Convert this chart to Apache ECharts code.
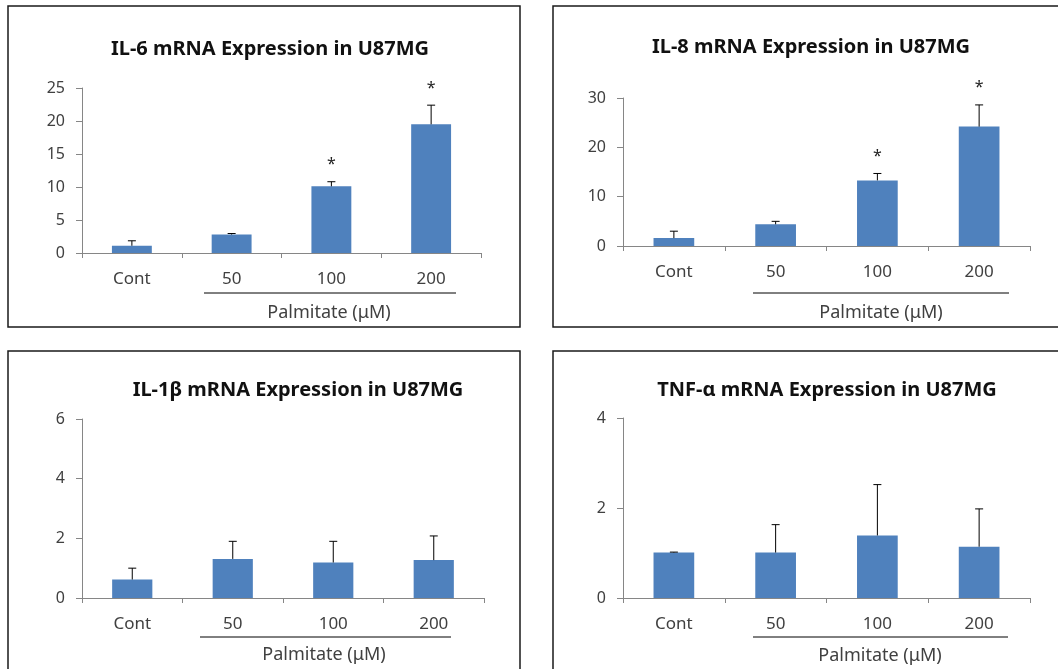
<!DOCTYPE html>
<html>
<head>
<meta charset="utf-8">
<script src="https://cdn.jsdelivr.net/npm/echarts@6/dist/echarts.min.js"></script>
<style>
  html, body { margin: 0; padding: 0; background: #fff; }
  #chart { width: 1058px; height: 669px; }
</style>
</head>
<body>
<div id="chart"></div>
<script>
// Treatment groups (Palmitate concentrations in µM)
const categories = ['Cont', '50', '100', '200'];

// Relative mRNA expression: mean and upper error (SD)
const il6Mean = [1.1, 2.8, 10.1, 19.5];
const il6Err = [0.75, 0.15, 0.7, 2.9];
const il8Mean = [1.6, 4.4, 13.3, 24.2];
const il8Err = [1.4, 0.6, 1.4, 4.4];
const il1bMean = [0.62, 1.31, 1.19, 1.27];
const il1bErr = [0.38, 0.59, 0.71, 0.81];
const tnfMean = [1.01, 1.01, 1.39, 1.14];
const tnfErr = [0.01, 0.62, 1.13, 0.84];

// Significance marks above each group
const il6Sig = ['', '', '*', '*'];
const il8Sig = ['', '', '*', '*'];
const il1bSig = ['', '', '', ''];
const tnfSig = ['', '', '', ''];

// Y axis ranges
const il6Axis = { max: 25, interval: 5 };
const il8Axis = { max: 30, interval: 10 };
const il1bAxis = { max: 6, interval: 2 };
const tnfAxis = { max: 4, interval: 2 };

const titles = [
  'IL-6 mRNA Expression in U87MG',
  'IL-8 mRNA Expression in U87MG',
  'IL-1\u03b2 mRNA Expression in U87MG',
  'TNF-\u03b1 mRNA Expression in U87MG'
];
const xTitle = 'Palmitate (\u03bcM)';

const FONT = '"Noto Sans", "Open Sans", sans-serif';
const BAR = '#4f81bd';
const AXIS = '#868686';
const TXT = '#404040';

const panels = [
  { mean: il6Mean, err: il6Err, sig: il6Sig, axis: il6Axis,
    grid: { left: 82, top: 88, width: 399, height: 165 },
    box: { x: 8, y: 6, w: 512, h: 321 }, titleX: 270, titleY: 49,
    line: { x1: 204, x2: 456, y: 293 }, xTitleX: 329, xTitleY: 313 },
  { mean: il8Mean, err: il8Err, sig: il8Sig, axis: il8Axis,
    grid: { left: 623, top: 98, width: 407, height: 148 },
    box: { x: 553, y: 6, w: 520, h: 321 }, titleX: 811, titleY: 47,
    line: { x1: 753, x2: 1009, y: 293 }, xTitleX: 881, xTitleY: 313 },
  { mean: il1bMean, err: il1bErr, sig: il1bSig, axis: il1bAxis,
    grid: { left: 82, top: 419, width: 402, height: 179 },
    box: { x: 8, y: 351, w: 512, h: 340 }, titleX: 298, titleY: 390,
    line: { x1: 200, x2: 451, y: 637 }, xTitleX: 324, xTitleY: 655 },
  { mean: tnfMean, err: tnfErr, sig: tnfSig, axis: tnfAxis,
    grid: { left: 623, top: 418, width: 407, height: 180 },
    box: { x: 553, y: 351, w: 520, h: 340 }, titleX: 827, titleY: 390,
    line: { x1: 753, x2: 1008, y: 637 }, xTitleX: 880, xTitleY: 656 }
];

const chart = echarts.init(document.getElementById('chart'), null, { renderer: 'canvas' });

const grid = [], xAxis = [], yAxis = [], series = [], title = [], graphic = [];

panels.forEach((p, k) => {
  grid.push(Object.assign({ containLabel: false }, p.grid));

  xAxis.push({
    type: 'category', gridIndex: k, data: categories, boundaryGap: true,
    axisLine: { lineStyle: { color: AXIS, width: 1 } },
    axisTick: { show: true, length: 5, alignWithLabel: false, lineStyle: { color: AXIS } },
    axisLabel: { color: TXT, fontSize: 17, fontFamily: FONT, margin: 18, interval: 0 },
    splitLine: { show: false }
  });

  yAxis.push({
    type: 'value', gridIndex: k, min: 0, max: p.axis.max, interval: p.axis.interval,
    axisLine: { show: true, lineStyle: { color: AXIS, width: 1 } },
    axisTick: { show: true, length: 6, lineStyle: { color: AXIS } },
    axisLabel: { color: TXT, fontSize: 16, fontFamily: FONT, margin: 17 },
    splitLine: { show: false }
  });

  series.push({
    type: 'bar', xAxisIndex: k, yAxisIndex: k, data: p.mean,
    barWidth: '40%', itemStyle: { color: BAR }, silent: true
  });

  // Upper error bars with caps, plus significance marks
  series.push({
    type: 'custom', xAxisIndex: k, yAxisIndex: k, silent: true, z: 5,
    data: p.mean.map((m, i) => [i, m, p.err[i]]),
    renderItem: function (params, api) {
      const i = api.value(0), m = api.value(1), e = api.value(2);
      const base = api.coord([i, m]);
      const top = api.coord([i, m + e]);
      const cap = 4;
      const children = [
        { type: 'line', shape: { x1: base[0], y1: base[1], x2: top[0], y2: top[1] },
          style: { stroke: '#000', lineWidth: 1 } },
        { type: 'line', shape: { x1: top[0] - cap, y1: top[1], x2: top[0] + cap, y2: top[1] },
          style: { stroke: '#000', lineWidth: 1 } }
      ];
      const mark = p.sig[params.dataIndex];
      if (mark) {
        children.push({
          type: 'text',
          style: { text: mark, x: top[0], y: top[1] - 17, align: 'center', verticalAlign: 'middle',
                   fontSize: 16, fontFamily: FONT, fill: '#222' }
        });
      }
      return { type: 'group', children: children };
    }
  });

  title.push({
    text: titles[k], left: p.titleX, top: p.titleY, textAlign: 'center', textVerticalAlign: 'middle',
    padding: 0,
    textStyle: { fontSize: 20, fontWeight: 'bold', fontFamily: FONT, color: '#111' }
  });

  graphic.push({
    type: 'rect', silent: true,
    shape: { x: p.box.x, y: p.box.y, width: p.box.w, height: p.box.h },
    style: { fill: 'none', stroke: '#1a1a1a', lineWidth: 1.5 }
  });
  graphic.push({
    type: 'line', silent: true,
    shape: { x1: p.line.x1, y1: p.line.y, x2: p.line.x2, y2: p.line.y },
    style: { stroke: '#000', lineWidth: 1 }
  });
  graphic.push({
    type: 'text', silent: true, x: p.xTitleX, y: p.xTitleY,
    style: { text: xTitle, align: 'center', verticalAlign: 'middle', fontSize: 18,
             fontFamily: FONT, fill: TXT }
  });
});

chart.setOption({
  backgroundColor: '#fff',
  animation: false,
  title: title,
  grid: grid,
  xAxis: xAxis,
  yAxis: yAxis,
  series: series,
  graphic: graphic
});
</script>
</body>
</html>
